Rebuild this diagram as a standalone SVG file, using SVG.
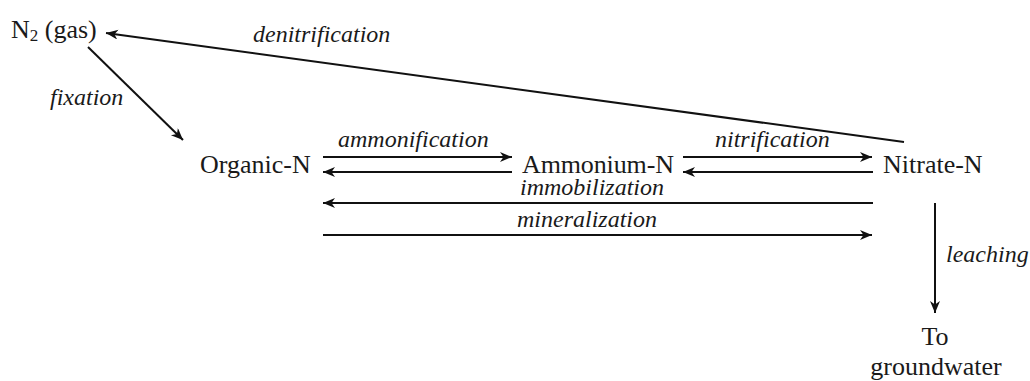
<svg xmlns="http://www.w3.org/2000/svg" width="1030" height="381" viewBox="0 0 1030 381">
<style>
.n{font-family:"Liberation Serif","Times New Roman",serif;font-size:26px;fill:#1a1a1a}
.l{font-family:"Liberation Serif","Times New Roman",serif;font-size:24px;font-style:italic;fill:#1a1a1a}
.c{stroke:#111;stroke-width:2;fill:none;marker-end:url(#ah)}
</style>
<defs>
<marker id="ah" markerUnits="userSpaceOnUse" markerWidth="14" markerHeight="12" refX="12" refY="5" orient="auto">
<path d="M0,0 L12,5 L0,10 L3.5,5 Z" fill="#111"/>
</marker>
</defs>
<rect width="1030" height="381" fill="#fff"/>
<g id="n2"><text class="n" x="11" y="38">N<tspan font-size="17" dy="3">2</tspan><tspan dy="-3"> (gas)</tspan></text></g>
<g id="organic"><text class="n" x="200" y="173">Organic-N</text></g>
<g id="ammonium"><text class="n" x="522" y="173" textLength="152" lengthAdjust="spacing">Ammonium-N</text></g>
<g id="nitrate"><text class="n" x="883" y="173">Nitrate-N</text></g>
<g id="groundwater"><text class="n" x="935" y="345" text-anchor="middle">To</text><text class="n" x="936" y="375" text-anchor="middle">groundwater</text></g>
<g id="connectors">
<line class="c" x1="88" y1="47" x2="183" y2="140"/>
<line class="c" x1="904" y1="142" x2="106" y2="33"/>
<line class="c" x1="323" y1="157" x2="512" y2="157"/>
<line class="c" x1="512" y1="172" x2="323" y2="172"/>
<line class="c" x1="683" y1="157" x2="872" y2="157"/>
<line class="c" x1="873" y1="172" x2="683" y2="172"/>
<line class="c" x1="873" y1="203" x2="323" y2="203"/>
<line class="c" x1="323" y1="235" x2="872" y2="235"/>
<line class="c" x1="935" y1="203" x2="935" y2="313"/>
</g>
<g id="labels">
<text class="l" x="50" y="105">fixation</text>
<text class="l" x="253" y="42">denitrification</text>
<text class="l" x="338" y="147">ammonification</text>
<text class="l" x="715" y="147">nitrification</text>
<text class="l" x="520" y="195">immobilization</text>
<text class="l" x="517" y="227">mineralization</text>
<text class="l" x="946" y="262">leaching</text>
</g>
</svg>
